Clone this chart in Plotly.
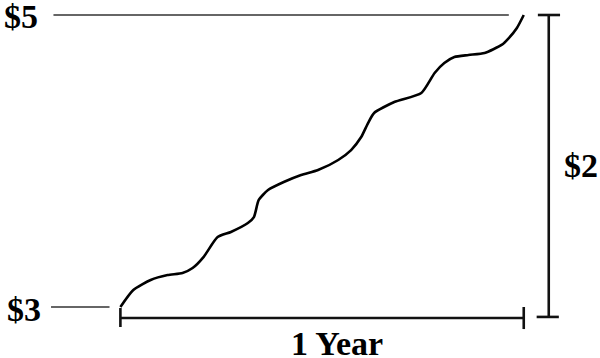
import plotly.graph_objects as go

# Time in years and price in dollars along the curve
years = [0.0, 0.032, 0.075, 0.117, 0.154, 0.179, 0.206, 0.241, 0.274, 0.316, 0.331,
         0.343, 0.366, 0.405, 0.448, 0.490, 0.540, 0.572, 0.597, 0.614, 0.629, 0.679,
         0.746, 0.779, 0.803, 0.828, 0.863, 0.903, 0.945, 0.963, 0.983, 1.0]
price = [3.0, 3.116, 3.185, 3.219, 3.233, 3.267, 3.342, 3.479, 3.514, 3.575, 3.616,
         3.733, 3.801, 3.856, 3.904, 3.938, 4.007, 4.075, 4.164, 4.260, 4.329, 4.404,
         4.466, 4.603, 4.671, 4.712, 4.726, 4.740, 4.795, 4.842, 4.911, 5.0]

price_start = 3
price_end = 5
label_start = "$3"
label_end = "$5"
label_diff = "$2"
label_time = "1 Year"

fig = go.Figure()
fig.add_trace(go.Scatter(x=years, y=price, mode="lines",
                         line=dict(color="black", width=2.6, shape="spline", smoothing=0.6),
                         hoverinfo="skip", showlegend=False))

gray = dict(color="#666666", width=2)
blk = dict(color="#111111", width=2.6)
shapes = [
    # reference levels
    dict(type="line", xref="x", yref="y", x0=-0.166, x1=0.963, y0=price_end, y1=price_end, line=gray),
    dict(type="line", xref="x", yref="y", x0=-0.172, x1=-0.027, y0=price_start, y1=price_start, line=gray),
    # bottom bracket (1 year)
    dict(type="line", xref="x", yref="y", x0=0, x1=1, y0=2.925, y1=2.925, line=blk),
    dict(type="line", xref="x", yref="y", x0=0, x1=0, y0=2.993, y1=2.863, line=blk),
    dict(type="line", xref="x", yref="y", x0=1, x1=1, y0=3.0, y1=2.849, line=blk),
    # right bracket ($2)
    dict(type="line", xref="x", yref="y", x0=1.062, x1=1.062, y0=price_end, y1=2.932, line=blk),
    dict(type="line", xref="x", yref="y", x0=1.035, x1=1.090, y0=price_end, y1=price_end, line=blk),
    dict(type="line", xref="x", yref="y", x0=1.032, x1=1.087, y0=2.932, y1=2.932, line=blk),
]

font = dict(family="Liberation Serif", size=34, color="black")
annotations = [
    dict(text="<b>%s</b>" % label_end, x=20.5 / 600, y=1 - 17 / 358, xref="paper", yref="paper",
         showarrow=False, font=font, xanchor="center", yanchor="middle"),
    dict(text="<b>%s</b>" % label_start, x=23.5 / 600, y=1 - 309 / 358, xref="paper", yref="paper",
         showarrow=False, font=font, xanchor="center", yanchor="middle"),
    dict(text="<b>%s</b>" % label_diff, x=580.5 / 600, y=1 - 165 / 358, xref="paper", yref="paper",
         showarrow=False, font=font, xanchor="center", yanchor="middle"),
    dict(text="<b>%s</b>" % label_time, x=337 / 600, y=1 - 343 / 358, xref="paper", yref="paper",
         showarrow=False, font=font, xanchor="center", yanchor="middle"),
]

fig.update_layout(
    width=600, height=358,
    margin=dict(l=0, r=0, t=0, b=0),
    paper_bgcolor="white", plot_bgcolor="white",
    xaxis=dict(range=[-120 / 402, 478 / 402], visible=False, fixedrange=True),
    yaxis=dict(range=[3 - 51 / 146, 3 + 307 / 146], visible=False, fixedrange=True),
    shapes=shapes, annotations=annotations,
)

fig.write_html("out.html", config={"displayModeBar": False})
